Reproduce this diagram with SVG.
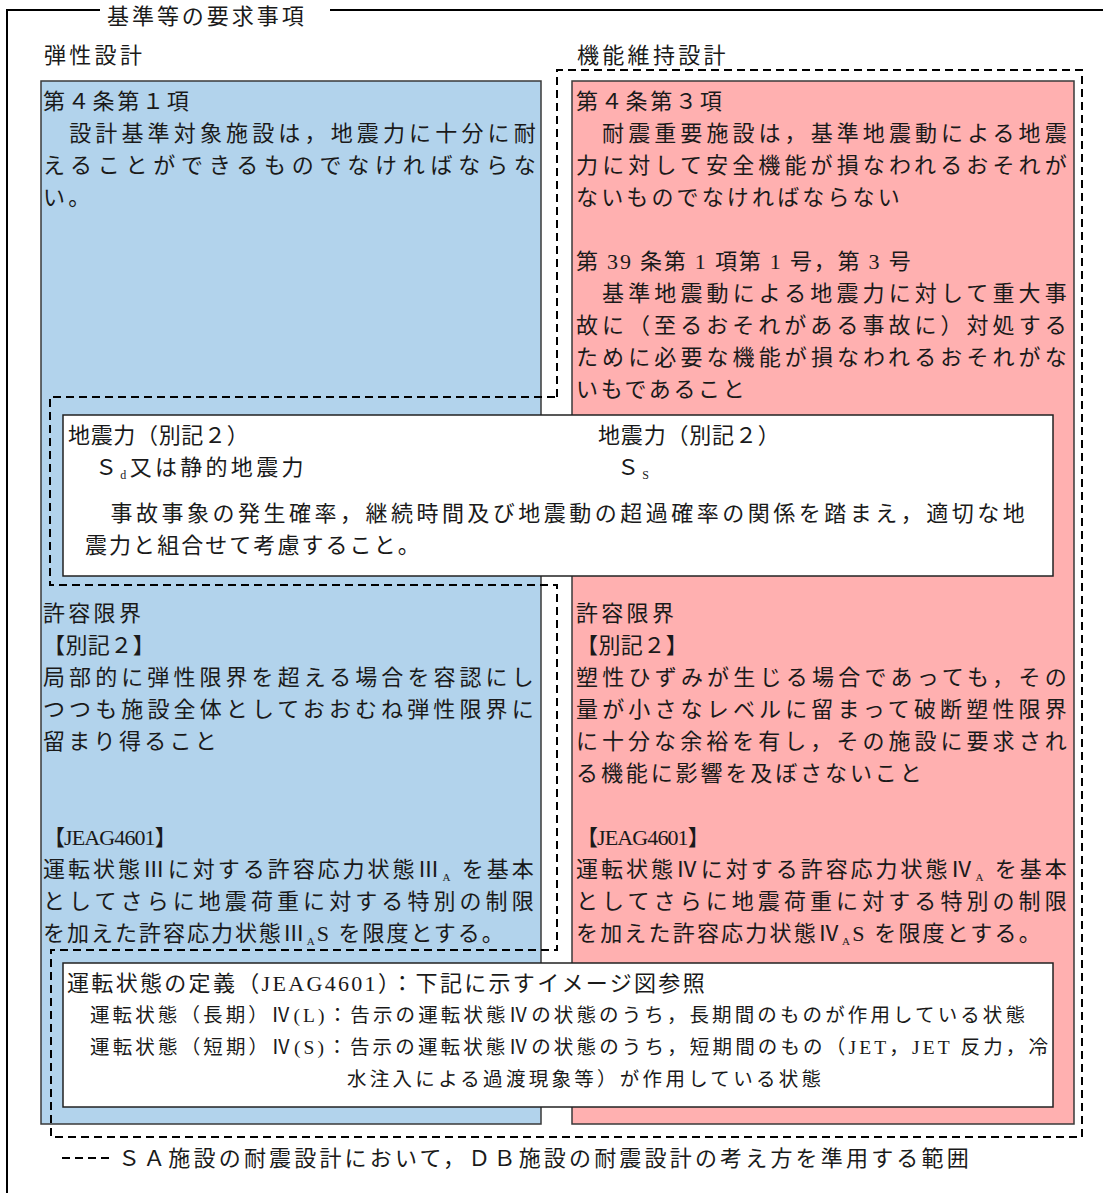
<svg xmlns="http://www.w3.org/2000/svg" width="1103" height="1193" viewBox="0 0 1103 1193">
<style>
text{font-family:"Liberation Serif","Noto Sans CJK JP",serif;font-size:22px;fill:#1a1a1a;letter-spacing:3.3px}
.sm{font-size:19.5px;letter-spacing:2px}
.frame{stroke:#000;stroke-width:2;fill:none}
.blue{fill:#b2d3ec;stroke:#3a3a3a;stroke-width:1.5}
.pink{fill:#ffb0b0;stroke:#3a3a3a;stroke-width:1.5}
.white{fill:#fff;stroke:#222;stroke-width:1.5}
.dash{fill:none;stroke:#000;stroke-width:2;stroke-dasharray:8 5}
</style>
<rect width="1103" height="1193" fill="#fff"/>
<g id="frame">
<line class="frame" x1="7" y1="10" x2="7" y2="1193"/>
<line class="frame" x1="6" y1="10" x2="100" y2="10"/>
<line class="frame" x1="330" y1="10" x2="1103" y2="10"/>
<text x="107" y="24" textLength="200" lengthAdjust="spacing">基準等の要求事項</text>
<text x="44" y="63">弾性設計</text>
<text x="577" y="63">機能維持設計</text>
</g>
<g id="node-elastic">
<rect class="blue" x="41" y="81" width="500" height="1043"/>
<text x="43" y="109" textLength="149" lengthAdjust="spacing">第４条第１項</text>
<text x="43" y="141" textLength="496" lengthAdjust="spacing">　設計基準対象施設は，地震力に十分に耐</text>
<text x="43" y="173" textLength="496" lengthAdjust="spacing">えることができるものでなければならな</text>
<text x="43" y="205">い。</text>
<text x="43" y="621">許容限界</text>
<text x="43" y="653" textLength="115" lengthAdjust="spacing">【別記２】</text>
<text x="43" y="685" textLength="494" lengthAdjust="spacing">局部的に弾性限界を超える場合を容認にし</text>
<text x="43" y="717" textLength="494" lengthAdjust="spacing">つつも施設全体としておおむね弾性限界に</text>
<text x="43" y="749">留まり得ること</text>
<text x="43" y="845" textLength="137" lengthAdjust="spacing">【JEAG4601】</text>
<text x="43" y="877" textLength="494" lengthAdjust="spacing">運転状態Ⅲに対する許容応力状態Ⅲ<tspan font-size="11" dy="4">A</tspan><tspan dy="-4"> を基本</tspan></text>
<text x="43" y="909" textLength="494" lengthAdjust="spacing">としてさらに地震荷重に対する特別の制限</text>
<text x="43" y="941" textLength="464" lengthAdjust="spacing">を加えた許容応力状態Ⅲ<tspan font-size="11" dy="4">A</tspan><tspan dy="-4">S を限度とする。</tspan></text>
</g>
<g id="node-function">
<rect class="pink" x="572" y="81" width="502" height="1043"/>
<text x="576" y="109" textLength="149" lengthAdjust="spacing">第４条第３項</text>
<text x="576" y="141" textLength="494" lengthAdjust="spacing">　耐震重要施設は，基準地震動による地震</text>
<text x="576" y="173" textLength="494" lengthAdjust="spacing">力に対して安全機能が損なわれるおそれが</text>
<text x="576" y="205" textLength="327" lengthAdjust="spacing">ないものでなければならない</text>
<text x="576" y="269" textLength="338" lengthAdjust="spacing">第 39 条第 1 項第 1 号，第 3 号</text>
<text x="576" y="301" textLength="494" lengthAdjust="spacing">　基準地震動による地震力に対して重大事</text>
<text x="576" y="333" textLength="494" lengthAdjust="spacing">故に（至るおそれがある事故に）対処する</text>
<text x="576" y="365" textLength="494" lengthAdjust="spacing">ために必要な機能が損なわれるおそれがな</text>
<text x="576" y="397" textLength="172" lengthAdjust="spacing">いもであること</text>
<text x="576" y="621">許容限界</text>
<text x="576" y="653" textLength="115" lengthAdjust="spacing">【別記２】</text>
<text x="576" y="685" textLength="494" lengthAdjust="spacing">塑性ひずみが生じる場合であっても，その</text>
<text x="576" y="717" textLength="494" lengthAdjust="spacing">量が小さなレベルに留まって破断塑性限界</text>
<text x="576" y="749" textLength="494" lengthAdjust="spacing">に十分な余裕を有し，その施設に要求され</text>
<text x="576" y="781" textLength="349" lengthAdjust="spacing">る機能に影響を及ぼさないこと</text>
<text x="576" y="845" textLength="137" lengthAdjust="spacing">【JEAG4601】</text>
<text x="576" y="877" textLength="494" lengthAdjust="spacing">運転状態Ⅳに対する許容応力状態Ⅳ<tspan font-size="11" dy="4">A</tspan><tspan dy="-4"> を基本</tspan></text>
<text x="576" y="909" textLength="494" lengthAdjust="spacing">としてさらに地震荷重に対する特別の制限</text>
<text x="576" y="941" textLength="468" lengthAdjust="spacing">を加えた許容応力状態Ⅳ<tspan font-size="11" dy="4">A</tspan><tspan dy="-4">S を限度とする。</tspan></text>
</g>
<g id="node-seismic-force">
<rect class="white" x="63" y="415" width="990" height="161"/>
<text x="68" y="443" textLength="184" lengthAdjust="spacing">地震力（別記２）</text>
<text x="95" y="475" letter-spacing="2">Ｓ<tspan font-size="12" dy="4">d</tspan><tspan dy="-4">又は静的地震力</tspan></text>
<text x="598" y="443" textLength="185" lengthAdjust="spacing">地震力（別記２）</text>
<text x="617" y="475" letter-spacing="2">Ｓ<tspan font-size="12" dy="4">S</tspan></text>
<text x="85" y="521" textLength="943" lengthAdjust="spacing">　事故事象の発生確率，継続時間及び地震動の超過確率の関係を踏まえ，適切な地</text>
<text x="85" y="553" textLength="338" lengthAdjust="spacing">震力と組合せて考慮すること。</text>
</g>
<g id="node-operating-state">
<rect class="white" x="63" y="963" width="990" height="144"/>
<text x="67" y="991" textLength="641" lengthAdjust="spacing">運転状態の定義（JEAG4601）：下記に示すイメージ図参照</text>
<text class="sm" x="90" y="1022" textLength="937" lengthAdjust="spacing">運転状態（長期）Ⅳ(L)：告示の運転状態Ⅳの状態のうち，長期間のものが作用している状態</text>
<text class="sm" x="90" y="1054" textLength="960" lengthAdjust="spacing">運転状態（短期）Ⅳ(S)：告示の運転状態Ⅳの状態のうち，短期間のもの（JET，JET 反力，冷</text>
<text class="sm" x="347" y="1086" textLength="476" lengthAdjust="spacing">水注入による過渡現象等）が作用している状態</text>
</g>
<g id="connectors">
<path class="dash" d="M557,397 L557,70 L1082,70 L1082,1137 L51,1137 L51,950 L557,950 L557,585 L50,585 L50,397 Z"/>
</g>
<g id="legend">
<line class="dash" x1="62" y1="1158" x2="110" y2="1158" stroke-dasharray="8 4"/>
<text x="118" y="1166" textLength="854" lengthAdjust="spacing">ＳＡ施設の耐震設計において，ＤＢ施設の耐震設計の考え方を準用する範囲</text>
</g>
</svg>
